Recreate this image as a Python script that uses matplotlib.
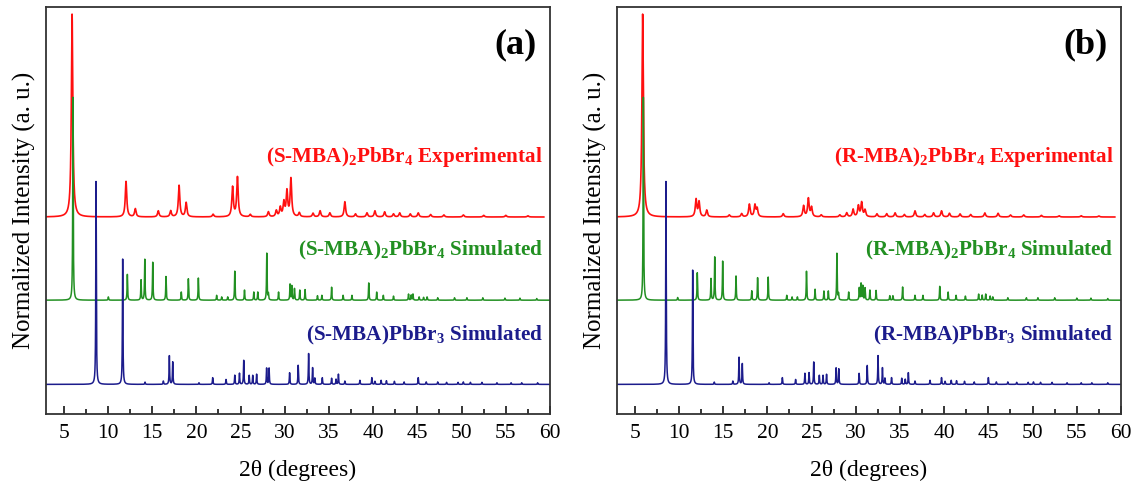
import numpy as np
import matplotlib
matplotlib.use('Agg')
import matplotlib.pyplot as plt
import matplotlib.transforms as mtransforms
from matplotlib.ticker import MultipleLocator

plt.rcParams['font.family'] = 'Liberation Serif'
plt.rcParams['mathtext.fontset'] = 'custom'
plt.rcParams['mathtext.rm'] = 'Liberation Serif:bold'
plt.rcParams['mathtext.bf'] = 'Liberation Serif:bold'
plt.rcParams['mathtext.default'] = 'rm'

# peak lists (2theta in degrees, relative height)
# panel (a), S enantiomer
exp_a_pos = [5.95, 12.05, 13.1, 15.7, 17.1, 18.05, 18.85, 21.9, 24.1, 24.65, 26.1, 28.15, 29.05, 29.5,
             29.9, 30.25, 30.7, 31.65, 33.2, 34.0, 35.1, 36.8, 38.0, 39.3, 40.2, 41.3, 42.3, 43.0, 44.2,
             45.1, 46.5, 48.0, 50.2, 52.5, 55.0, 57.5]
exp_a_int = [1.0, 0.175, 0.04, 0.03, 0.03, 0.155, 0.07, 0.013, 0.146, 0.195, 0.012, 0.025, 0.03, 0.045,
             0.07, 0.124, 0.187, 0.02, 0.018, 0.03, 0.02, 0.075, 0.015, 0.02, 0.03, 0.025, 0.015, 0.02, 0.015,
             0.02, 0.012, 0.01, 0.01, 0.008, 0.008, 0.006]

sim2_a_pos = [6.05, 10.05, 12.2, 13.75, 14.17, 15.07, 16.57, 18.3, 19.1, 20.23, 22.3, 22.87, 23.55, 24.35,
              25.45, 26.5, 26.95, 27.97, 28.15, 29.3, 30.6, 30.8, 31.1, 31.7, 32.3, 33.7, 34.2, 35.3, 36.6,
              37.6, 39.5, 40.4, 41.15, 42.3, 44.0, 44.3, 44.5, 45.2, 45.7, 46.1, 47.3, 49.2, 50.6, 52.4,
              54.9, 56.6, 58.5]
sim2_a_int = [1.0, 0.016, 0.127, 0.10, 0.203, 0.187, 0.117, 0.04, 0.106, 0.109, 0.024, 0.016, 0.016, 0.143,
              0.05, 0.04, 0.04, 0.231, 0.03, 0.04, 0.078, 0.07, 0.057, 0.05, 0.052, 0.022, 0.024, 0.064, 0.024,
              0.024, 0.085, 0.04, 0.024, 0.02, 0.03, 0.025, 0.03, 0.016, 0.014, 0.016, 0.012, 0.012, 0.012, 0.012,
              0.01, 0.01, 0.008]

sim3_a_pos = [8.66, 11.67, 14.2, 16.27, 16.95, 17.33, 20.3, 21.85, 23.36, 24.35, 24.88, 25.36, 25.98, 26.38,
              26.82, 27.95, 28.23, 30.55, 31.52, 32.7, 33.15, 33.4, 34.25, 35.3, 35.8, 36.07, 36.8, 38.5,
              39.85, 40.2, 40.9, 41.5, 42.4, 43.5, 45.1, 46.0, 47.3, 48.3, 49.6, 50.2, 51.0, 52.3, 54.0,
              55.6, 56.8, 58.6]
sim3_a_int = [1.0, 0.618, 0.011, 0.016, 0.141, 0.11, 0.008, 0.033, 0.024, 0.045, 0.055, 0.118, 0.044, 0.044,
              0.05, 0.08, 0.08, 0.057, 0.094, 0.151, 0.081, 0.03, 0.033, 0.03, 0.025, 0.05, 0.016, 0.02,
              0.033, 0.015, 0.02, 0.018, 0.015, 0.012, 0.033, 0.012, 0.012, 0.01, 0.01, 0.012, 0.01, 0.01, 0.008,
              0.008, 0.008, 0.008]

# panel (b), R enantiomer
exp_b_pos = [5.9, 11.94, 12.28, 13.15, 15.7, 17.1, 17.97, 18.6, 18.85, 21.8, 24.1, 24.64, 25.0, 26.1, 28.2,
             28.98, 29.7, 30.3, 30.67, 31.05, 32.4, 33.5, 34.45, 35.5, 36.7, 37.8, 38.8, 39.7, 40.6, 41.8,
             43.0, 44.6, 46.1, 47.5, 49.0, 51.0, 53.0, 55.5, 57.5]
exp_b_int = [1.0, 0.085, 0.073, 0.033, 0.01, 0.016, 0.062, 0.057, 0.04, 0.016, 0.054, 0.09, 0.046, 0.01, 0.01,
             0.02, 0.037, 0.054, 0.07, 0.033, 0.015, 0.016, 0.02, 0.012, 0.03, 0.012, 0.02, 0.03, 0.018, 0.015,
             0.012, 0.02, 0.018, 0.01, 0.01, 0.008, 0.006, 0.006, 0.005]

sim2_b_pos = [5.98, 9.86, 12.08, 13.63, 14.05, 14.95, 16.46, 18.24, 18.9, 20.1, 22.2, 22.8, 23.4, 24.43, 25.4,
              26.4, 26.9, 27.87, 28.05, 29.2, 30.4, 30.6, 30.8, 31.05, 31.6, 32.3, 33.85, 34.2, 35.3, 36.7,
              37.6, 39.5, 40.45, 41.35, 42.4, 43.9, 44.3, 44.7, 45.2, 45.5, 47.2, 49.3, 50.6, 52.5, 55.0,
              56.6, 58.5]
sim2_b_int = [1.0, 0.013, 0.135, 0.106, 0.213, 0.192, 0.119, 0.046, 0.111, 0.114, 0.024, 0.016, 0.016, 0.143,
              0.054, 0.045, 0.045, 0.23, 0.03, 0.04, 0.06, 0.081, 0.07, 0.06, 0.05, 0.048, 0.022, 0.022, 0.065,
              0.024, 0.024, 0.068, 0.04, 0.024, 0.02, 0.03, 0.025, 0.03, 0.02, 0.016, 0.012, 0.012, 0.012, 0.012,
              0.01, 0.01, 0.008]

sim3_b_pos = [8.54, 11.56, 14.0, 16.1, 16.8, 17.17, 20.2, 21.7, 23.2, 24.25, 24.72, 25.25, 25.88, 26.3, 26.7,
              27.78, 28.08, 30.38, 31.3, 32.52, 33.02, 33.3, 34.05, 35.2, 35.6, 35.95, 36.7, 38.4, 39.7, 40.1,
              40.8, 41.4, 42.3, 43.4, 45.0, 45.9, 47.2, 48.2, 49.5, 50.1, 50.9, 52.2, 53.9, 55.5, 56.7, 58.5]
sim3_b_int = [1.0, 0.56, 0.011, 0.016, 0.133, 0.102, 0.008, 0.033, 0.024, 0.054, 0.057, 0.11, 0.044, 0.044,
              0.049, 0.081, 0.076, 0.054, 0.093, 0.141, 0.081, 0.03, 0.033, 0.03, 0.025, 0.057, 0.016, 0.02,
              0.033, 0.015, 0.02, 0.018, 0.015, 0.012, 0.033, 0.012, 0.012, 0.01, 0.01, 0.012, 0.01, 0.01, 0.008,
              0.008, 0.008, 0.008]

RED = '#ff1010'
GREEN = '#229022'
BLUE = '#1c1c8c'


def pattern(two_theta, positions, heights, fwhm):
	"""
	Sum of lorentzian peaks, normalized to 1.
	"""
	hw = fwhm / 2.0
	y = np.zeros_like(two_theta)
	for p, h in zip(positions, heights):
		y += h * hw ** 2 / ((two_theta - p) ** 2 + hw ** 2)
	return y / y.max()


def draw_panel(ax, exp, sim2, sim3, tag, letter):
	x_exp = np.linspace(3, 59.3, 8000)
	x_sim = np.linspace(3, 60, 8000)

	ax.plot(x_exp, pattern(x_exp, exp[0], exp[1], 0.2) + 0.825, color=RED, lw=1.2)
	ax.plot(x_sim, pattern(x_sim, sim2[0], sim2[1], 0.07) + 0.415, color=GREEN, lw=1.1)
	ax.plot(x_sim, pattern(x_sim, sim3[0], sim3[1], 0.07), color=BLUE, lw=1.1)

	trans = mtransforms.blended_transform_factory(ax.transAxes, ax.transData)
	kw = dict(transform=trans, ha='right', va='baseline', fontsize=15.2, fontweight='bold')
	ax.text(0.986, 1.098, '(%s-MBA)$_2$PbBr$_4$ Experimental' % tag, color=RED, **kw)
	ax.text(0.986, 0.633, '(%s-MBA)$_2$PbBr$_4$ Simulated' % tag, color=GREEN, **kw)
	ax.text(0.986, 0.215, '(%s-MBA)PbBr$_3$ Simulated' % tag, color=BLUE, **kw)
	ax.text(0.974, 0.886, '(%s)' % letter, transform=ax.transAxes, ha='right', va='baseline',
	        fontsize=26, fontweight='bold')

	ax.set_xlim(3, 60)
	ax.set_ylim(-0.146, 1.86)
	ax.xaxis.set_major_locator(MultipleLocator(5))
	ax.xaxis.set_minor_locator(MultipleLocator(2.5))
	ax.tick_params(axis='x', which='both', direction='in', labelsize=15.5, pad=7, top=False)
	ax.tick_params(axis='x', which='major', length=6, width=1.1)
	ax.tick_params(axis='x', which='minor', length=3.5, width=1.1)
	ax.set_yticks([])
	for s in ax.spines.values():
		s.set_linewidth(1.3)
		s.set_color('#333333')
	ax.set_xlabel('2θ (degrees)', fontsize=17, labelpad=12)
	ax.set_ylabel('Normalized Intensity (a. u.)', fontsize=18, labelpad=7)


fig = plt.figure(figsize=(11.38, 4.90), dpi=100)
ax_a = fig.add_axes([46 / 1138, 76 / 490, 504 / 1138, 407 / 490])
ax_b = fig.add_axes([617 / 1138, 76 / 490, 504 / 1138, 407 / 490])

draw_panel(ax_a, (exp_a_pos, exp_a_int), (sim2_a_pos, sim2_a_int), (sim3_a_pos, sim3_a_int), 'S', 'a')
draw_panel(ax_b, (exp_b_pos, exp_b_int), (sim2_b_pos, sim2_b_int), (sim3_b_pos, sim3_b_int), 'R', 'b')

fig.savefig('out.png', dpi=100)
